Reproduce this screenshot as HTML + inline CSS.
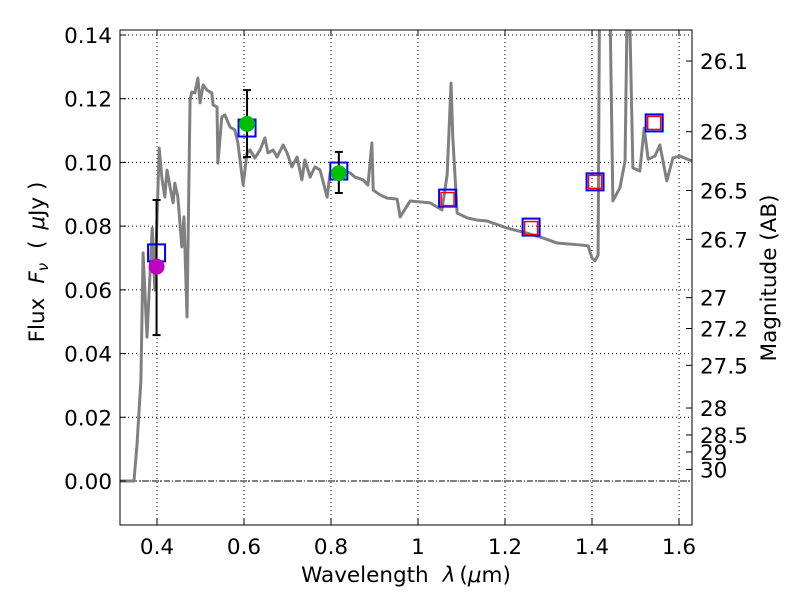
<!DOCTYPE html>
<html><head><meta charset="utf-8"><style>body{margin:0;background:#fff}svg{display:block}text{font-family:"DejaVu Sans","Liberation Sans",sans-serif;font-size:21.5px;fill:#000}</style></head>
<body>
<svg id="c" width="800" height="600"></svg>
<script>
const specLam=[0.315,0.347,0.354,0.363,0.368,0.377,0.389,0.395,0.405,0.411,0.418,0.423,0.430,0.437,0.441,0.448,0.457,0.462,0.469,0.476,0.480,0.487,0.494,0.499,0.506,0.515,0.526,0.529,0.538,0.540,0.549,0.556,0.568,0.579,0.586,0.598,0.607,0.614,0.625,0.637,0.648,0.655,0.667,0.676,0.690,0.699,0.710,0.722,0.733,0.740,0.752,0.763,0.775,0.791,0.798,0.816,0.844,0.855,0.874,0.885,0.894,0.897,0.913,0.929,0.952,0.959,0.982,1.028,1.055,1.067,1.076,1.080,1.090,1.113,1.136,1.159,1.205,1.251,1.287,1.320,1.372,1.391,1.400,1.407,1.414,1.418,1.439,1.448,1.464,1.476,1.483,1.494,1.510,1.520,1.529,1.545,1.556,1.572,1.586,1.602,1.630];
const specFlux=[0,0,0.0113,0.0317,0.0716,0.0452,0.0794,0.060,0.1045,0.0954,0.0891,0.0976,0.0923,0.0873,0.0935,0.0891,0.0735,0.0829,0.0515,0.1196,0.1221,0.1218,0.1265,0.1187,0.1243,0.1227,0.1218,0.1180,0.1174,0.0998,0.1143,0.1149,0.1111,0.1102,0.1061,0.0929,0.1030,0.1039,0.1014,0.1039,0.1077,0.1030,0.1039,0.1017,0.1055,0.1030,0.0986,0.1017,0.0945,0.1008,0.0954,0.0986,0.0976,0.0891,0.0967,0.0976,0.0967,0.0954,0.0945,0.0929,0.1061,0.0913,0.0898,0.0888,0.0885,0.0829,0.0879,0.0873,0.0851,0.0961,0.1249,0.1078,0.0841,0.0826,0.0819,0.0816,0.0794,0.0778,0.0763,0.0747,0.0741,0.0738,0.0700,0.0691,0.0709,0.17,0.17,0.0879,0.0920,0.1004,0.17,0.0983,0.0973,0.1108,0.1010,0.1020,0.1055,0.0942,0.1014,0.1020,0.1004];
const photLam=[0.399,0.607,0.818];
const photFlux=[0.0673,0.1121,0.0966];
const photLo=[0.0458,0.1017,0.0904];
const photHi=[0.0882,0.1227,0.1033];
const photColor=['#bf00bf','#00bf00','#00bf00'];
const modelLam=[0.399,0.607,0.818,1.068,1.260,1.407,1.543];
const modelFlux=[0.0716,0.1108,0.0973,0.0888,0.0797,0.0939,0.1124];
const nirLam=[1.068,1.260,1.407,1.543];
const nirFlux=[0.0885,0.0794,0.0939,0.1124];
const xTicks=[0.4,0.6,0.8,1.0,1.2,1.4,1.6];
const xTickLabels=['0.4','0.6','0.8','1','1.2','1.4','1.6'];
const yTicks=[0,0.02,0.04,0.06,0.08,0.10,0.12,0.14];
const yTickLabels=['0.00','0.02','0.04','0.06','0.08','0.10','0.12','0.14'];
const magTicks=[26.1,26.3,26.5,26.7,27,27.2,27.5,28,28.5,29,30];
const magTickLabels=['26.1','26.3','26.5','26.7','27','27.2','27.5','28','28.5','29','30'];

const L=120,R=692,T=30,B=525;
const X=v=>157+(v-0.4)*435;
const Y=v=>481-v*3185.7;
const svg=document.getElementById('c');
const NS='http://www.w3.org/2000/svg';
function mk(tag,attrs,parent){const e=document.createElementNS(NS,tag);for(const k in attrs)e.setAttribute(k,attrs[k]);(parent||svg).appendChild(e);return e;}

const defs=mk('defs',{});const cp=mk('clipPath',{id:'clip'},defs);mk('rect',{x:L,y:T,width:R-L,height:B-T},cp);

const grid=mk('g',{});


xTicks.forEach(v=>mk('line',{x1:X(v),x2:X(v),y1:T,y2:B,stroke:'#000','stroke-width':1,'stroke-dasharray':'1,3'},grid));
yTicks.forEach(v=>mk('line',{x1:L,x2:R,y1:Y(v),y2:Y(v),stroke:'#000','stroke-width':1,'stroke-dasharray':'1,3'},grid));
const zl=mk('line',{x1:L,x2:R,y1:Y(0),y2:Y(0),stroke:'#000','stroke-width':1,'stroke-dasharray':'6,2,1,2'});



const pg=mk('g',{'clip-path':'url(#clip)'});
const sp=mk('polyline',{points:specLam.map((l,i)=>X(l)+','+Y(specFlux[i])).join(' '),fill:'none',stroke:'#808080','stroke-width':3,'stroke-linejoin':'round'},pg);



modelLam.forEach((l,i)=>{const r=mk('rect',{x:X(l)-8.5,y:Y(modelFlux[i])-8.5,width:17,height:17,fill:'none',stroke:'#0000ff','stroke-width':2},pg);

});
nirLam.forEach((l,i)=>{const r=mk('rect',{x:X(l)-6.5,y:Y(nirFlux[i])-6.5,width:13,height:13,fill:'none',stroke:'#ff0000','stroke-width':1.5},pg);

});
photLam.forEach((l,i)=>{const g=mk('g',{},pg);


const x=X(l);
mk('line',{x1:x,x2:x,y1:Y(photLo[i]),y2:Y(photHi[i]),stroke:'#000','stroke-width':2},g);
mk('line',{x1:x-4,x2:x+4,y1:Y(photLo[i]),y2:Y(photLo[i]),stroke:'#000','stroke-width':2},g);
mk('line',{x1:x-4,x2:x+4,y1:Y(photHi[i]),y2:Y(photHi[i]),stroke:'#000','stroke-width':2},g);
mk('circle',{cx:x,cy:Y(photFlux[i]),r:8,fill:photColor[i]},g);});

const fr=mk('rect',{x:L,y:T,width:R-L,height:B-T,fill:'none',stroke:'#000','stroke-width':1});



xTicks.forEach((v,i)=>{mk('line',{x1:X(v),x2:X(v),y1:B,y2:B-6,stroke:'#000'});mk('line',{x1:X(v),x2:X(v),y1:T,y2:T+6,stroke:'#000'});
const t=mk('text',{x:X(v),y:B+29,'text-anchor':'middle'});t.textContent=xTickLabels[i];

});
yTicks.forEach((v,i)=>{mk('line',{x1:L,x2:L+6,y1:Y(v),y2:Y(v),stroke:'#000'});
const t=mk('text',{x:L-8,y:Y(v)+8,'text-anchor':'end'});t.textContent=yTickLabels[i];

});
magTicks.forEach((m,i)=>{const f=Math.pow(10,(23.9-m)/2.5);const y=Y(f);
mk('line',{x1:R,x2:R-6,y1:y,y2:y,stroke:'#000'});
const t=mk('text',{x:R+8,y:y+8,'text-anchor':'start'});t.textContent=magTickLabels[i];

});

const xl=mk('text',{x:406,y:582,'text-anchor':'middle'});xl.innerHTML='Wavelength<tspan dx="14" font-style="italic">λ</tspan><tspan dx="4">(</tspan><tspan font-style="italic">μ</tspan>m)';


const yl=mk('text',{x:0,y:0,'text-anchor':'middle',transform:'translate(44,262) rotate(-90)'});yl.innerHTML='Flux<tspan dx="14" font-style="italic">F</tspan><tspan font-style="italic" font-size="15" dy="4">ν</tspan><tspan dy="-4" dx="14">( </tspan><tspan dx="4" font-style="italic">μ</tspan>Jy )';


const ml=mk('text',{x:0,y:0,'text-anchor':'middle',transform:'translate(776,278) rotate(-90)'});ml.textContent='Magnitude (AB)';


</script>
</body></html>
